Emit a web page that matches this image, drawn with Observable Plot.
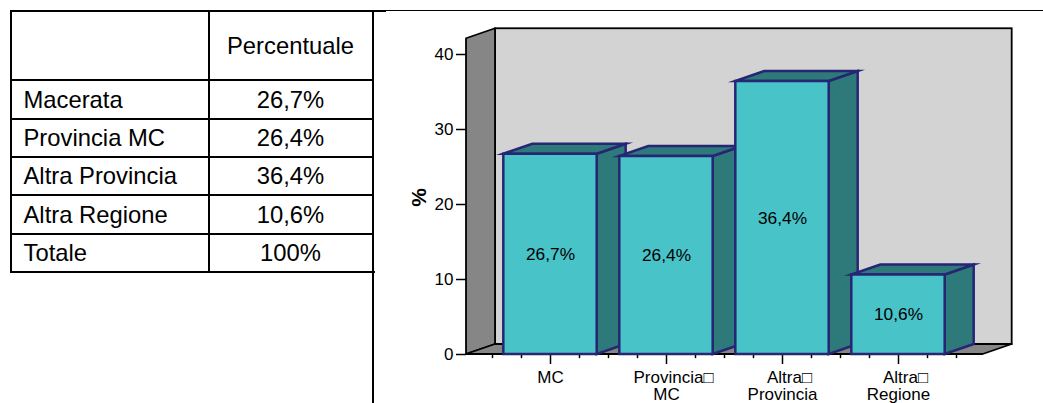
<!DOCTYPE html>
<html>
<head>
<meta charset="utf-8">
<script src="https://cdn.jsdelivr.net/npm/d3@7"></script>
<script src="https://cdn.jsdelivr.net/npm/@observablehq/plot@0.6"></script>
<style>
html,body{margin:0;padding:0;background:#fff;overflow:hidden}
#page{position:relative;width:1043px;height:403px;overflow:hidden;font-family:"Liberation Sans",Arial,sans-serif;color:#000}
#chart{position:absolute;left:0;top:0}
#chart svg{display:block;background:transparent}
table{position:absolute;left:9.5px;top:10px;width:364px;height:263px;border-collapse:collapse;table-layout:fixed;font-size:23.8px;line-height:1}
td{border:2px solid #000;padding:0 0 0 12px;vertical-align:middle;box-sizing:border-box}
td.v{text-align:center;padding:0}
.line{position:absolute;background:#000}
</style>
</head>
<body>
<div id="page">
<div id="chart"></div>
<table id="tbl"></table>
<div class="line" style="left:371.7px;top:11px;width:2px;height:392px"></div>
<div class="line" style="left:372px;top:271px;width:3px;height:2px"></div>
<div class="line" style="left:372px;top:10px;width:14px;height:2px"></div>
<div class="line" style="left:386px;top:10px;width:657px;height:1px"></div>
</div>
<script>
// Table contents
const tableHeader = "Percentuale";
const rowLabels = ["Macerata", "Provincia MC", "Altra Provincia", "Altra Regione", "Totale"];
const rowValues = ["26,7%", "26,4%", "36,4%", "10,6%", "100%"];

// Chart contents
const categories = ["MC", "\u00A0\u00A0\u00A0Provincia\u25A1\nMC", "\u00A0\u00A0\u00A0Altra\u25A1\nProvincia", "\u00A0\u00A0\u00A0Altra\u25A1\nRegione"];
const percentages = [26.7, 26.4, 36.4, 10.6];
const barLabels = ["26,7%", "26,4%", "36,4%", "10,6%"];
const yTicks = [0, 10, 20, 30, 40];

// Build table
const tbl = document.getElementById("tbl");
const heights = [69, 39, 38, 38.3, 38.3, 38.7];
const addRow = (a, b, h) => {
  const tr = tbl.insertRow();
  tr.style.height = h + "px";
  const c1 = tr.insertCell(); c1.textContent = a; c1.style.width = "198px";
  const c2 = tr.insertCell(); c2.textContent = b; c2.className = "v";
};
addRow("", tableHeader, heights[0]);
rowLabels.forEach((l, i) => addRow(l, rowValues[i], heights[i + 1]));

// 3D geometry, in scale units
const depthX = 0.25, depthY = 1.333;
const halfBar = 0.4025;
const wallL = -0.224, floorR = 4.23, wallTop = 42.1;

const leftWall = [
  {x: wallL, y1: 0, y2: wallTop},
  {x: wallL + depthX, y1: depthY, y2: wallTop + depthY}
];
const backWall = [{x1: wallL + depthX, x2: floorR + depthX, y1: depthY, y2: wallTop + depthY}];
const floorFace = [
  {y: 0, x1: wallL, x2: floorR},
  {y: depthY, x1: wallL + depthX, x2: floorR + depthX}
];

const navy = "#262675", dark = "#000";
const front = "#48C3C8", shade = "#2E7A7B";
const faceStyle = {stroke: navy, strokeWidth: 2.5, strokeLinejoin: "miter", strokeMiterlimit: 12};

const barMarks = percentages.flatMap((v, i) => {
  const l = i + 0.5 - halfBar, r = i + 0.5 + halfBar;
  const side = [{x: r, y1: 0, y2: v}, {x: r + depthX, y1: depthY, y2: v + depthY}];
  const top = [{y: v, x1: l, x2: r}, {y: v + depthY, x1: l + depthX, x2: r + depthX}];
  return [
    Plot.areaY(side, {x: "x", y1: "y1", y2: "y2", fill: shade, ...faceStyle}),
    Plot.areaX(top, {y: "y", x1: "x1", x2: "x2", fill: shade, ...faceStyle}),
    Plot.rect([{x1: l, x2: r, y1: 0, y2: v}], {x1: "x1", x2: "x2", y1: "y1", y2: "y2", fill: front, ...faceStyle})
  ];
});

const majors = categories.map((_, i) => i + 0.5);
const minors = d3.range(0, 17).map(i => i / 4).filter(d => !majors.includes(d));

const chart = Plot.plot({
  width: 1043,
  height: 403,
  marginLeft: 466,
  marginRight: 0,
  marginTop: 40,
  marginBottom: 49,
  style: {fontFamily: '"Liberation Sans",Arial,sans-serif', background: "transparent", overflow: "hidden"},
  x: {domain: [0, 4], range: [492, 956]},
  y: {domain: [0, 40], range: [354, 54]},
  marks: [
    Plot.rect(backWall, {x1: "x1", x2: "x2", y1: "y1", y2: "y2", fill: "#D3D3D3", stroke: dark, strokeWidth: 1.8}),
    Plot.areaY(leftWall, {x: "x", y1: "y1", y2: "y2", fill: "#868686", stroke: dark, strokeWidth: 1.8}),
    Plot.areaX(floorFace, {y: "y", x1: "x1", x2: "x2", fill: "#868686", stroke: dark, strokeWidth: 1.8}),
    Plot.ruleX(minors, {x: d => d, y1: 0, y2: -0.55, stroke: "#000", strokeWidth: 1.5}),
    Plot.axisX({ticks: majors, tickSize: 10, tickPadding: 6, label: null, fontSize: 17, strokeWidth: 1.5, color: "#000",
      tickFormat: d => categories[Math.round(d - 0.5)], lineHeight: 1, textOverflow: null}),
    Plot.axisY({ticks: yTicks, tickSize: 10, tickPadding: 3, label: null, fontSize: 17, strokeWidth: 1.5, color: "#000"}),
    Plot.text(["%"], {frameAnchor: "left", textAnchor: "middle", dx: -47, rotate: -90, fontWeight: "bold", fontSize: 21, fill: "#000"}),
    ...barMarks,
    Plot.text(percentages, {x: (_, i) => i + 0.5, y: d => d / 2, text: (_, i) => barLabels[i], fontSize: 17.3, fill: "#000"})
  ]
});
document.getElementById("chart").appendChild(chart);
</script>
</body>
</html>
